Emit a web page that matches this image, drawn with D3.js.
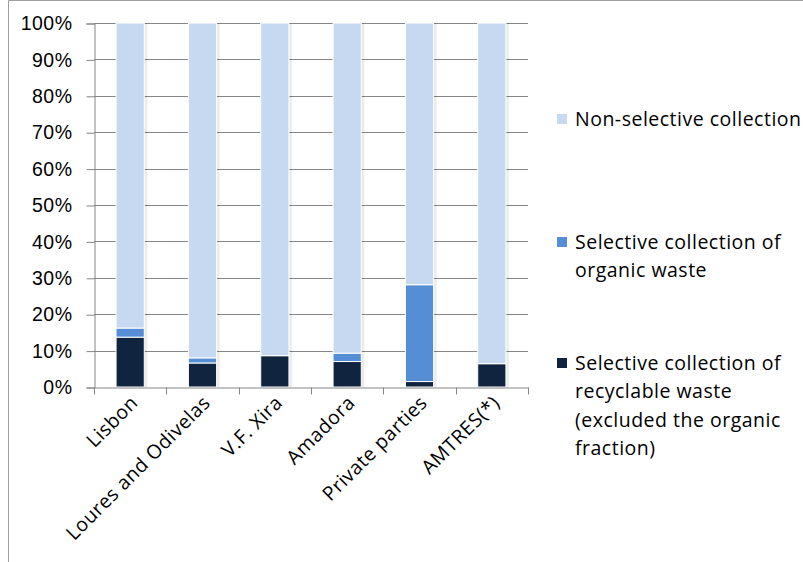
<!DOCTYPE html>
<html>
<head>
<meta charset="utf-8">
<script src="https://cdn.jsdelivr.net/npm/d3@7/dist/d3.min.js"></script>
<style>
  html, body { margin: 0; padding: 0; background: #fff; }
  svg { display: block; font-family: "Open Sans", "Noto Sans", sans-serif; }
  .lbl { font-size: 19.5px; letter-spacing: 0.5px; fill: #000; }
</style>
</head>
<body>
<svg id="chart" width="803" height="562"></svg>
<script>
// Share of collected municipal waste by collection type (%)
const categories = ["Lisbon", "Loures and Odivelas", "V.F. Xira", "Amadora", "Private parties", "AMTRES(*)"];
const recyclable = [13.7, 6.6, 8.6, 7.0, 1.5, 6.4];
const organic    = [2.5, 1.4, 0.0, 2.3, 26.6, 0.0];
const nonSelective = [83.8, 92.0, 91.4, 90.7, 71.9, 93.6];
const seriesNames = [
  "Selective collection of recyclable waste (excluded the organic fraction)",
  "Selective collection of organic waste",
  "Non-selective collection"
];
const legendLines = [
  ["Non-selective collection"],
  ["Selective collection of", "organic waste"],
  ["Selective collection of", "recyclable waste", "(excluded the organic", "fraction)"]
];
const yTicks = [0, 10, 20, 30, 40, 50, 60, 70, 80, 90, 100];
const colors = ["#10243F", "#558ED5", "#C6D9F1"];

const svg = d3.select("#chart");

// chart frame
svg.append("path")
  .attr("d", "M8.5,562 L8.5,0.5 L803,0.5")
  .attr("fill", "none").attr("stroke", "#a0a0a0").attr("stroke-width", 1);

const plot = { left: 94, right: 528, top: 23, bottom: 387 };

const x = d3.scaleBand().domain(categories).range([plot.left, plot.right]).paddingInner(0.61).paddingOuter(0.305);
const y = d3.scaleLinear().domain([0, 100]).range([plot.bottom, plot.top]);

// gridlines
svg.append("g").selectAll("line").data(yTicks.filter(t => t > 0)).join("line")
  .attr("x1", plot.left).attr("x2", plot.right)
  .attr("y1", d => Math.round(y(d)) + 0.5).attr("y2", d => Math.round(y(d)) + 0.5)
  .attr("stroke", "#868686").attr("stroke-width", 1);

// y axis
const yAxis = svg.append("g").attr("transform", `translate(${plot.left + 0.5},0.5)`)
  .call(d3.axisLeft(y).tickValues(yTicks).tickFormat(d => d + "%").tickSize(8).tickPadding(14));
yAxis.select(".domain").attr("stroke", "#868686");
yAxis.selectAll(".tick line").attr("stroke", "#868686");
yAxis.selectAll(".tick text").attr("class", "lbl").attr("font-size", null)
  .attr("font-family", null).attr("fill", null);

// stacked data
const rows = categories.map((c, i) => ({ cat: c, v: [recyclable[i], organic[i], nonSelective[i]] }));
const stackData = rows.map(r => {
  let acc = 0;
  return r.v.map((v, k) => { const s = { cat: r.cat, k, y0: acc, y1: acc + v }; acc += v; return s; });
}).flat().filter(d => d.y1 > d.y0);

// faint bar shadow
svg.append("g").selectAll("rect").data(rows).join("rect")
  .attr("x", d => x(d.cat) + 1.5)
  .attr("y", d => y(d3.sum(d.v)))
  .attr("width", x.bandwidth() + 1.5)
  .attr("height", d => y(0) - y(d3.sum(d.v)))
  .attr("fill", "#000").attr("opacity", 0.08);

svg.append("g").selectAll("rect").data(stackData).join("rect")
  .attr("x", d => x(d.cat))
  .attr("y", d => y(d.y1))
  .attr("width", x.bandwidth())
  .attr("height", d => y(d.y0) - y(d.y1))
  .attr("fill", d => colors[d.k])
  .attr("stroke", "#fff").attr("stroke-width", 1);

// x axis
const xAxis = svg.append("g").attr("transform", `translate(0,${plot.bottom + 0.5})`)
  .call(d3.axisBottom(x).tickSize(0).tickFormat(""));
xAxis.select(".domain").attr("stroke", "#868686");
const bounds = [plot.left, ...categories.map(c => x(c) + x.bandwidth() / 2 + x.step() / 2)];
xAxis.append("g").selectAll("line").data(bounds).join("line")
  .attr("x1", d => Math.round(d) + 0.5).attr("x2", d => Math.round(d) + 0.5)
  .attr("y1", 0).attr("y2", 7).attr("stroke", "#868686");

svg.append("g").selectAll("text").data(categories).join("text")
  .attr("class", "lbl")
  .attr("transform", d => `translate(${x(d) + x.bandwidth() / 2 + 9},${plot.bottom + 17}) rotate(-45)`)
  .attr("text-anchor", "end")
  .text(d => d);

// legend
const legendTops = [119, 242, 363];
const lg = svg.append("g");
legendLines.forEach((lines, i) => {
  const k = 2 - i;
  lg.append("rect").attr("x", 557).attr("y", legendTops[i] - 5).attr("width", 10).attr("height", 10)
    .attr("fill", colors[k]);
  lg.append("text").attr("class", "lbl").attr("x", 575).attr("y", legendTops[i])
    .selectAll("tspan").data(lines).join("tspan")
    .attr("x", 575).attr("dy", (d, j) => j === 0 ? "0.35em" : 28.5)
    .text(d => d);
});
</script>
</body>
</html>
